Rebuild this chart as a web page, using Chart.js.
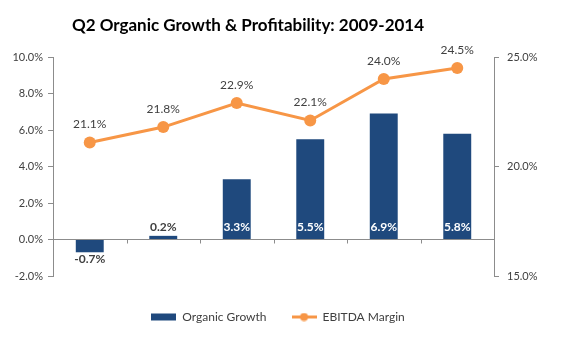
<!DOCTYPE html>
<html><head><meta charset="utf-8">
<script src="https://cdn.jsdelivr.net/npm/chart.js@4"></script>
<style>html,body{margin:0;padding:0;background:#fff}#wrap{width:580px;height:358px;position:relative}canvas{display:block}</style>
</head><body><div id="wrap"><canvas id="c" width="580" height="358"></canvas></div>
<script>
const years = ['2009', '2010', '2011', '2012', '2013', '2014'];
const organicGrowth = [-0.7, 0.2, 3.3, 5.5, 6.9, 5.8];
const ebitdaMargin = [21.1, 21.8, 22.9, 22.1, 24.0, 24.5];
const leftTicks = [-2, 0, 2, 4, 6, 8, 10];
const rightTicks = [15, 20, 25];
const titleText = 'Q2 Organic Growth & Profitability: 2009-2014';
const seriesNames = ['Organic Growth', 'EBITDA Margin'];

const BLUE = '#1F497D';
const ORANGE = '#F79646';
const AXIS = '#8C8C8C';
const TEXT = '#404040';
const FONT = 'Lato, "Open Sans", sans-serif';

function swatch(kind) {
  const c = document.createElement('canvas');
  c.width = 25; c.height = 9;
  const g = c.getContext('2d');
  if (kind === 'bar') {
    g.fillStyle = BLUE; g.fillRect(0, 1, 25, 7);
  } else {
    g.strokeStyle = ORANGE; g.lineWidth = 3;
    g.beginPath(); g.moveTo(0, 4.5); g.lineTo(25, 4.5); g.stroke();
    g.fillStyle = ORANGE; g.beginPath(); g.arc(12.5, 4.5, 4, 0, Math.PI * 2); g.fill();
  }
  return c;
}
const swatches = [swatch('bar'), swatch('line')];
const pct = v => v.toFixed(1) + '%';

const extras = {
  id: 'extras',
  afterLayout(chart) {
    if (chart.legend) { chart.legend.right -= 24; }
  },
  afterDatasetsDraw(chart) {
    const ctx = chart.ctx;
    const x = chart.scales.x, y = chart.scales.y;
    const zero = y.getPixelForValue(0);
    ctx.save();
    ctx.strokeStyle = AXIS; ctx.lineWidth = 1;
    for (let i = 1; i < years.length; i++) {
      const px = Math.round((x.getPixelForValue(i - 1) + x.getPixelForValue(i)) / 2) + 0.5;
      ctx.beginPath(); ctx.moveTo(px, zero); ctx.lineTo(px, zero + 4); ctx.stroke();
    }
    ctx.font = 'bold 12px ' + FONT;
    ctx.textAlign = 'center'; ctx.textBaseline = 'middle';
    const barMeta = chart.getDatasetMeta(0);
    barMeta.data.forEach((bar, i) => {
      const v = organicGrowth[i];
      if (v < 0) {
        ctx.fillStyle = TEXT;
        ctx.fillText(pct(v), bar.x, bar.y + 7);
      } else {
        ctx.fillStyle = (zero - bar.y) > 18 ? '#FFFFFF' : TEXT;
        ctx.fillText(pct(v), bar.x, zero - 12);
      }
    });
    ctx.font = '12px ' + FONT;
    ctx.fillStyle = TEXT;
    const lineMeta = chart.getDatasetMeta(1);
    lineMeta.data.forEach((pt, i) => {
      ctx.fillText(pct(ebitdaMargin[i]), pt.x, pt.y - 18);
    });
    ctx.restore();
  },
  afterDraw(chart) {
    const ctx = chart.ctx;
    ctx.save();
    ctx.font = 'bold 17px ' + FONT;
    ctx.fillStyle = '#000000';
    ctx.textAlign = 'center'; ctx.textBaseline = 'alphabetic';
    ctx.fillText(titleText, 248, 31);
    ctx.restore();
  }
};

new Chart(document.getElementById('c'), {
  type: 'bar',
  data: {
    labels: years,
    datasets: [
      {
        type: 'bar', label: seriesNames[0], data: organicGrowth,
        backgroundColor: BLUE, yAxisID: 'y',
        categoryPercentage: 1, barPercentage: 0.38, order: 2
      },
      {
        type: 'line', label: seriesNames[1], data: ebitdaMargin,
        borderColor: ORANGE, backgroundColor: ORANGE, borderWidth: 3,
        pointRadius: 6, pointHoverRadius: 6, pointBackgroundColor: ORANGE, pointBorderWidth: 0,
        yAxisID: 'y1', tension: 0, order: 1
      }
    ]
  },
  options: {
    responsive: false,
    animation: false,
    layout: { padding: { top: 57, left: 0, right: 0, bottom: 25 } },
    plugins: {
      title: { display: false },
      tooltip: { enabled: false },
      legend: {
        position: 'bottom',
        labels: {
          usePointStyle: true, pointStyleWidth: 25, boxHeight: 9,
          padding: 25, color: TEXT, font: { family: FONT, size: 12 },
          sort: (a, b) => a.datasetIndex - b.datasetIndex,
          generateLabels(chart) {
            const items = Chart.defaults.plugins.legend.labels.generateLabels(chart);
            items.forEach(it => { it.pointStyle = swatches[it.datasetIndex]; });
            return items;
          }
        }
      }
    },
    scales: {
      x: {
        grid: { display: false, drawTicks: false },
        border: { display: false },
        afterFit: s => { s.height = 10; },
        ticks: { color: TEXT, font: { family: FONT, size: 12 }, padding: 11 }
      },
      y: {
        position: 'left', min: -2, max: 10,
        afterBuildTicks: s => { s.ticks = leftTicks.map(v => ({ value: v })); },
        afterFit: s => { s.width = 53; },
        grid: {
          color: c => (c.tick && c.tick.value === 0) ? AXIS : 'rgba(0,0,0,0)',
          tickColor: AXIS, tickLength: 5, drawOnChartArea: true
        },
        border: { display: true, color: AXIS },
        ticks: { color: TEXT, font: { family: FONT, size: 11 }, padding: 5, callback: v => pct(v) }
      },
      y1: {
        position: 'right', min: 15, max: 25,
        afterBuildTicks: s => { s.ticks = rightTicks.map(v => ({ value: v })); },
        afterFit: s => { s.width = 86; },
        grid: { drawOnChartArea: false, tickColor: AXIS, tickLength: 5 },
        border: { display: true, color: AXIS },
        ticks: { color: TEXT, font: { family: FONT, size: 11 }, padding: 8, callback: v => pct(v) }
      }
    }
  },
  plugins: [extras]
});
</script>
</body></html>
